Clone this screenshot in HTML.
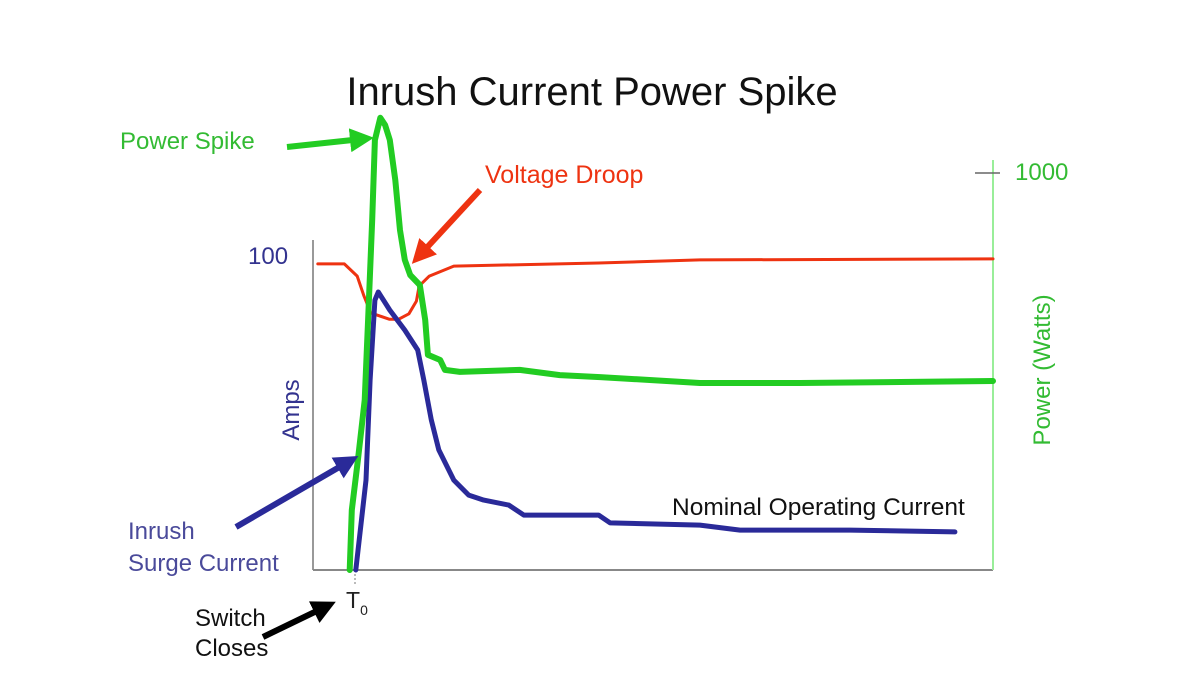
<!DOCTYPE html>
<html><head><meta charset="utf-8"><style>
html,body{margin:0;padding:0;background:#fff;width:1200px;height:675px;overflow:hidden}
svg{display:block;font-family:"Liberation Sans",sans-serif}
</style></head><body>
<svg id="chart" width="1200" height="675" viewBox="0 0 1200 675">
<defs>
<marker id="ag" markerWidth="4" markerHeight="4" refX="2" refY="2" orient="auto" markerUnits="strokeWidth"><path d="M0,0 L4,2 L0,4 z" fill="#22cc22"/></marker>
<marker id="ar" markerWidth="4" markerHeight="4" refX="2" refY="2" orient="auto" markerUnits="strokeWidth"><path d="M0,0 L4,2 L0,4 z" fill="#ee3311"/></marker>
<marker id="ab" markerWidth="4" markerHeight="4" refX="2" refY="2" orient="auto" markerUnits="strokeWidth"><path d="M0,0 L4,2 L0,4 z" fill="#2a2a99"/></marker>
<marker id="ak" markerWidth="4" markerHeight="4" refX="2" refY="2" orient="auto" markerUnits="strokeWidth"><path d="M0,0 L4,2 L0,4 z" fill="#000"/></marker>
</defs>
<text x="592" y="105" font-size="40" text-anchor="middle" fill="#111">Inrush Current Power Spike</text>
<line x1="313" y1="240" x2="313" y2="570" stroke="#999" stroke-width="2"/>
<line x1="313" y1="570" x2="993" y2="570" stroke="#888" stroke-width="2"/>
<line x1="993" y1="160" x2="993" y2="570" stroke="#9e9" stroke-width="2"/>
<line x1="975" y1="173" x2="1000" y2="173" stroke="#666" stroke-width="1.5"/>
<line x1="355" y1="570" x2="355" y2="585" stroke="#777" stroke-width="1" stroke-dasharray="2,2"/>
<text x="1015" y="180" font-size="24" fill="#33bb33">1000</text>
<text x="248" y="264" font-size="24" fill="#33338f">100</text>
<text transform="translate(299,410) rotate(-90)" font-size="24" text-anchor="middle" fill="#33338f">Amps</text>
<text transform="translate(1050,370) rotate(-90)" font-size="24" text-anchor="middle" fill="#33bb33">Power (Watts)</text>
<text x="346" y="608" font-size="23" fill="#222">T<tspan font-size="14" dy="7">0</tspan></text>
<g id="series"></g>
<text x="120" y="149" font-size="24" fill="#33bb33">Power Spike</text>
<line x1="287" y1="147" x2="362" y2="139" stroke="#22cc22" stroke-width="6" marker-end="url(#ag)"/>
<text x="485" y="183" font-size="25" fill="#ee3311">Voltage Droop</text>
<line x1="480" y1="190" x2="420" y2="255" stroke="#ee3311" stroke-width="6" marker-end="url(#ar)"/>
<text x="128" y="539" font-size="24" fill="#4a4a9a">Inrush</text>
<text x="128" y="571" font-size="24" fill="#4a4a9a">Surge Current</text>
<line x1="236" y1="527" x2="348" y2="462" stroke="#2a2a99" stroke-width="6" marker-end="url(#ab)"/>
<text x="672" y="515" font-size="24.5" fill="#111">Nominal Operating Current</text>
<text x="195" y="626" font-size="24" fill="#111">Switch</text>
<text x="195" y="656" font-size="24" fill="#111">Closes</text>
<line x1="263" y1="637" x2="325" y2="607" stroke="#000" stroke-width="6" marker-end="url(#ak)"/>
</svg>
<script>
const currentT = [6.3,6.8,7.8,8.4,9.1,9.6,11.3,13.5,15.4,16.3,17.4,18.5,20.7,22.9,25.1,28.8,31.0,42.0,43.7,56.9,62.8,79.0,94.4];
const currentA = [0,9.6,28.8,60.9,86.5,89.1,83.3,76.9,70.5,60.9,48.1,38.5,28.8,24.0,22.4,20.8,17.6,17.6,15.1,14.4,12.8,12.8,12.2];
const powerT = [5.4,5.7,6.6,7.6,8.1,8.7,9.1,9.9,10.6,11.3,12.1,12.8,13.5,14.3,15.7,16.5,16.9,18.7,19.4,21.6,30.4,36.3,42.2,56.9,71.6,100];
const powerW = [0,151,277,428,630,882,1083,1139,1121,1083,982,856,781,743,718,630,542,529,504,499,504,491,486,471,471,476];
const voltT = [0.7,4.6,6.5,7.5,8.5,11.2,12.6,14.1,15.2,15.6,17.1,20.7,42.0,56.9,100];
const voltV = [98.1,98.1,94.2,87.8,82.4,80.4,80.4,82.1,86.2,91.0,94.2,97.4,98.4,99.4,99.7];
const x0=313, pxPerT=6.8, yBase=570, pxPerAmp=3.12, pxPerW=0.397;
const xs = t => x0 + t*pxPerT;
const yA = a => yBase - a*pxPerAmp;
const yW = w => yBase - w*pxPerW;
const g = document.getElementById('series');
function line(ts, vs, yf, color, w, name){
  const p = document.createElementNS('http://www.w3.org/2000/svg','polyline');
  p.setAttribute('points', ts.map((t,i)=>xs(t).toFixed(1)+','+yf(vs[i]).toFixed(1)).join(' '));
  p.setAttribute('fill','none'); p.setAttribute('stroke',color); p.setAttribute('stroke-width',w);
  p.setAttribute('stroke-linejoin','round'); p.setAttribute('stroke-linecap','round');
  
  
  g.appendChild(p);
}
line(voltT, voltV, yA, '#ee3311', 3, 'voltage-line');
line(currentT, currentA, yA, '#2a2a99', 5, 'current-line');
line(powerT, powerW, yW, '#22cc22', 6, 'power-line');
</script>
</body></html>
